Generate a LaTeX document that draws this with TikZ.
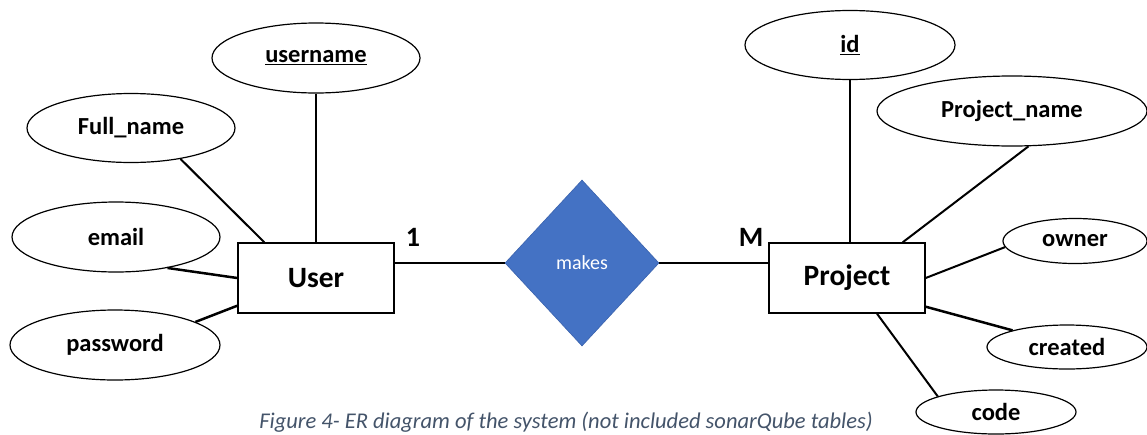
\documentclass[tikz,border=0pt]{standalone}
\usepackage{fontspec}
\setmainfont{Carlito}
\usetikzlibrary{shapes.geometric}
\definecolor{relblue}{HTML}{4472C4}
\definecolor{reledge}{HTML}{3A62AD}
\definecolor{captiongray}{HTML}{44546A}
\tikzset{
  attr/.style={ellipse, draw=black, line width=1.2pt, inner sep=0pt,
    font=\fontsize{24.5}{27}\selectfont\bfseries},
  entity/.style={rectangle, draw=black, line width=1.4pt, minimum width=156pt,
    minimum height=70pt, inner sep=0pt, font=\fontsize{29.5}{32}\selectfont\bfseries},
  relation/.style={diamond, fill=relblue, draw=reledge, line width=0.6pt, aspect=0.93,
    minimum width=154pt, minimum height=166pt, inner sep=0pt, text=white,
    font=\fontsize{20}{22}\selectfont},
  card/.style={font=\fontsize{28}{30}\selectfont\bfseries, inner sep=0pt},
  link/.style={draw=black, line width=2pt},
  thicklink/.style={draw=black, line width=2.5pt},
}
\begin{document}
\begin{tikzpicture}[x=1pt, y=-1pt]
\useasboundingbox (0,0) rectangle (1147,434);
\fill[white] (0,0) rectangle (1147,434);

% entities and relationship
\node[entity] (user) at (316,278) {User};
\node[entity] (project) at (847,278) {Project};
\node[relation] (makes) at (582,263) {makes};

% attributes of User
\node[attr, minimum width=208pt, minimum height=70pt] (username) at (316,58) {\underline{username}};
\node[attr, minimum width=208pt, minimum height=69pt] (fullname) at (131,128) {Full\_name};
\node[attr, minimum width=208pt, minimum height=70pt] (email) at (116,237) {email};
\node[attr, minimum width=210pt, minimum height=70pt] (password) at (115,345) {password};

% attributes of Project
\node[attr, minimum width=210pt, minimum height=69pt] (id) at (850,45) {\underline{id}};
\node[attr, minimum width=270pt, minimum height=70pt] (pname) at (1012,111) {Project\_name};
\node[attr, minimum width=144pt, minimum height=45pt] (owner) at (1075,241) {owner};
\node[attr, minimum width=160pt, minimum height=44pt] (created) at (1067,347) {created};
\node[attr, minimum width=160pt, minimum height=44pt] (code) at (996,412) {code};

% cardinalities
\node[card] (one) at (413,237) {1};
\node[card] (many) at (751,237) {M};

% relationship lines
\draw[link] (user.east |- makes.west) -- (makes.west);
\draw[link] (makes.east) -- (project.west |- makes.east);

% User attribute lines
\draw[link] (username.south) -- (username.south |- user.north);
\draw[link] (fullname.-32) -- ([xshift=27pt]user.north west);
\draw[thicklink] (email.-31) -- (user.west);
\draw[thicklink] (password.16) -- ([yshift=8pt]user.south west);

% Project attribute lines
\draw[link] (id.south) -- (id.south |- project.north);
\draw[link] (pname.-65) -- ([xshift=-23pt]project.north east);
\draw[link] (owner.185) -- (project.east);
\draw[thicklink] (created.163) -- ([yshift=7pt]project.south east);
\draw[link] (code.165) -- ([xshift=30pt]project.south);

% caption
\node[anchor=base, inner sep=0pt, text=captiongray,
  font=\fontsize{22.5}{24}\selectfont\itshape] (caption) at (566,428.5)
  {Figure 4- ER diagram of the system (not included sonarQube tables)};
\end{tikzpicture}
\end{document}
